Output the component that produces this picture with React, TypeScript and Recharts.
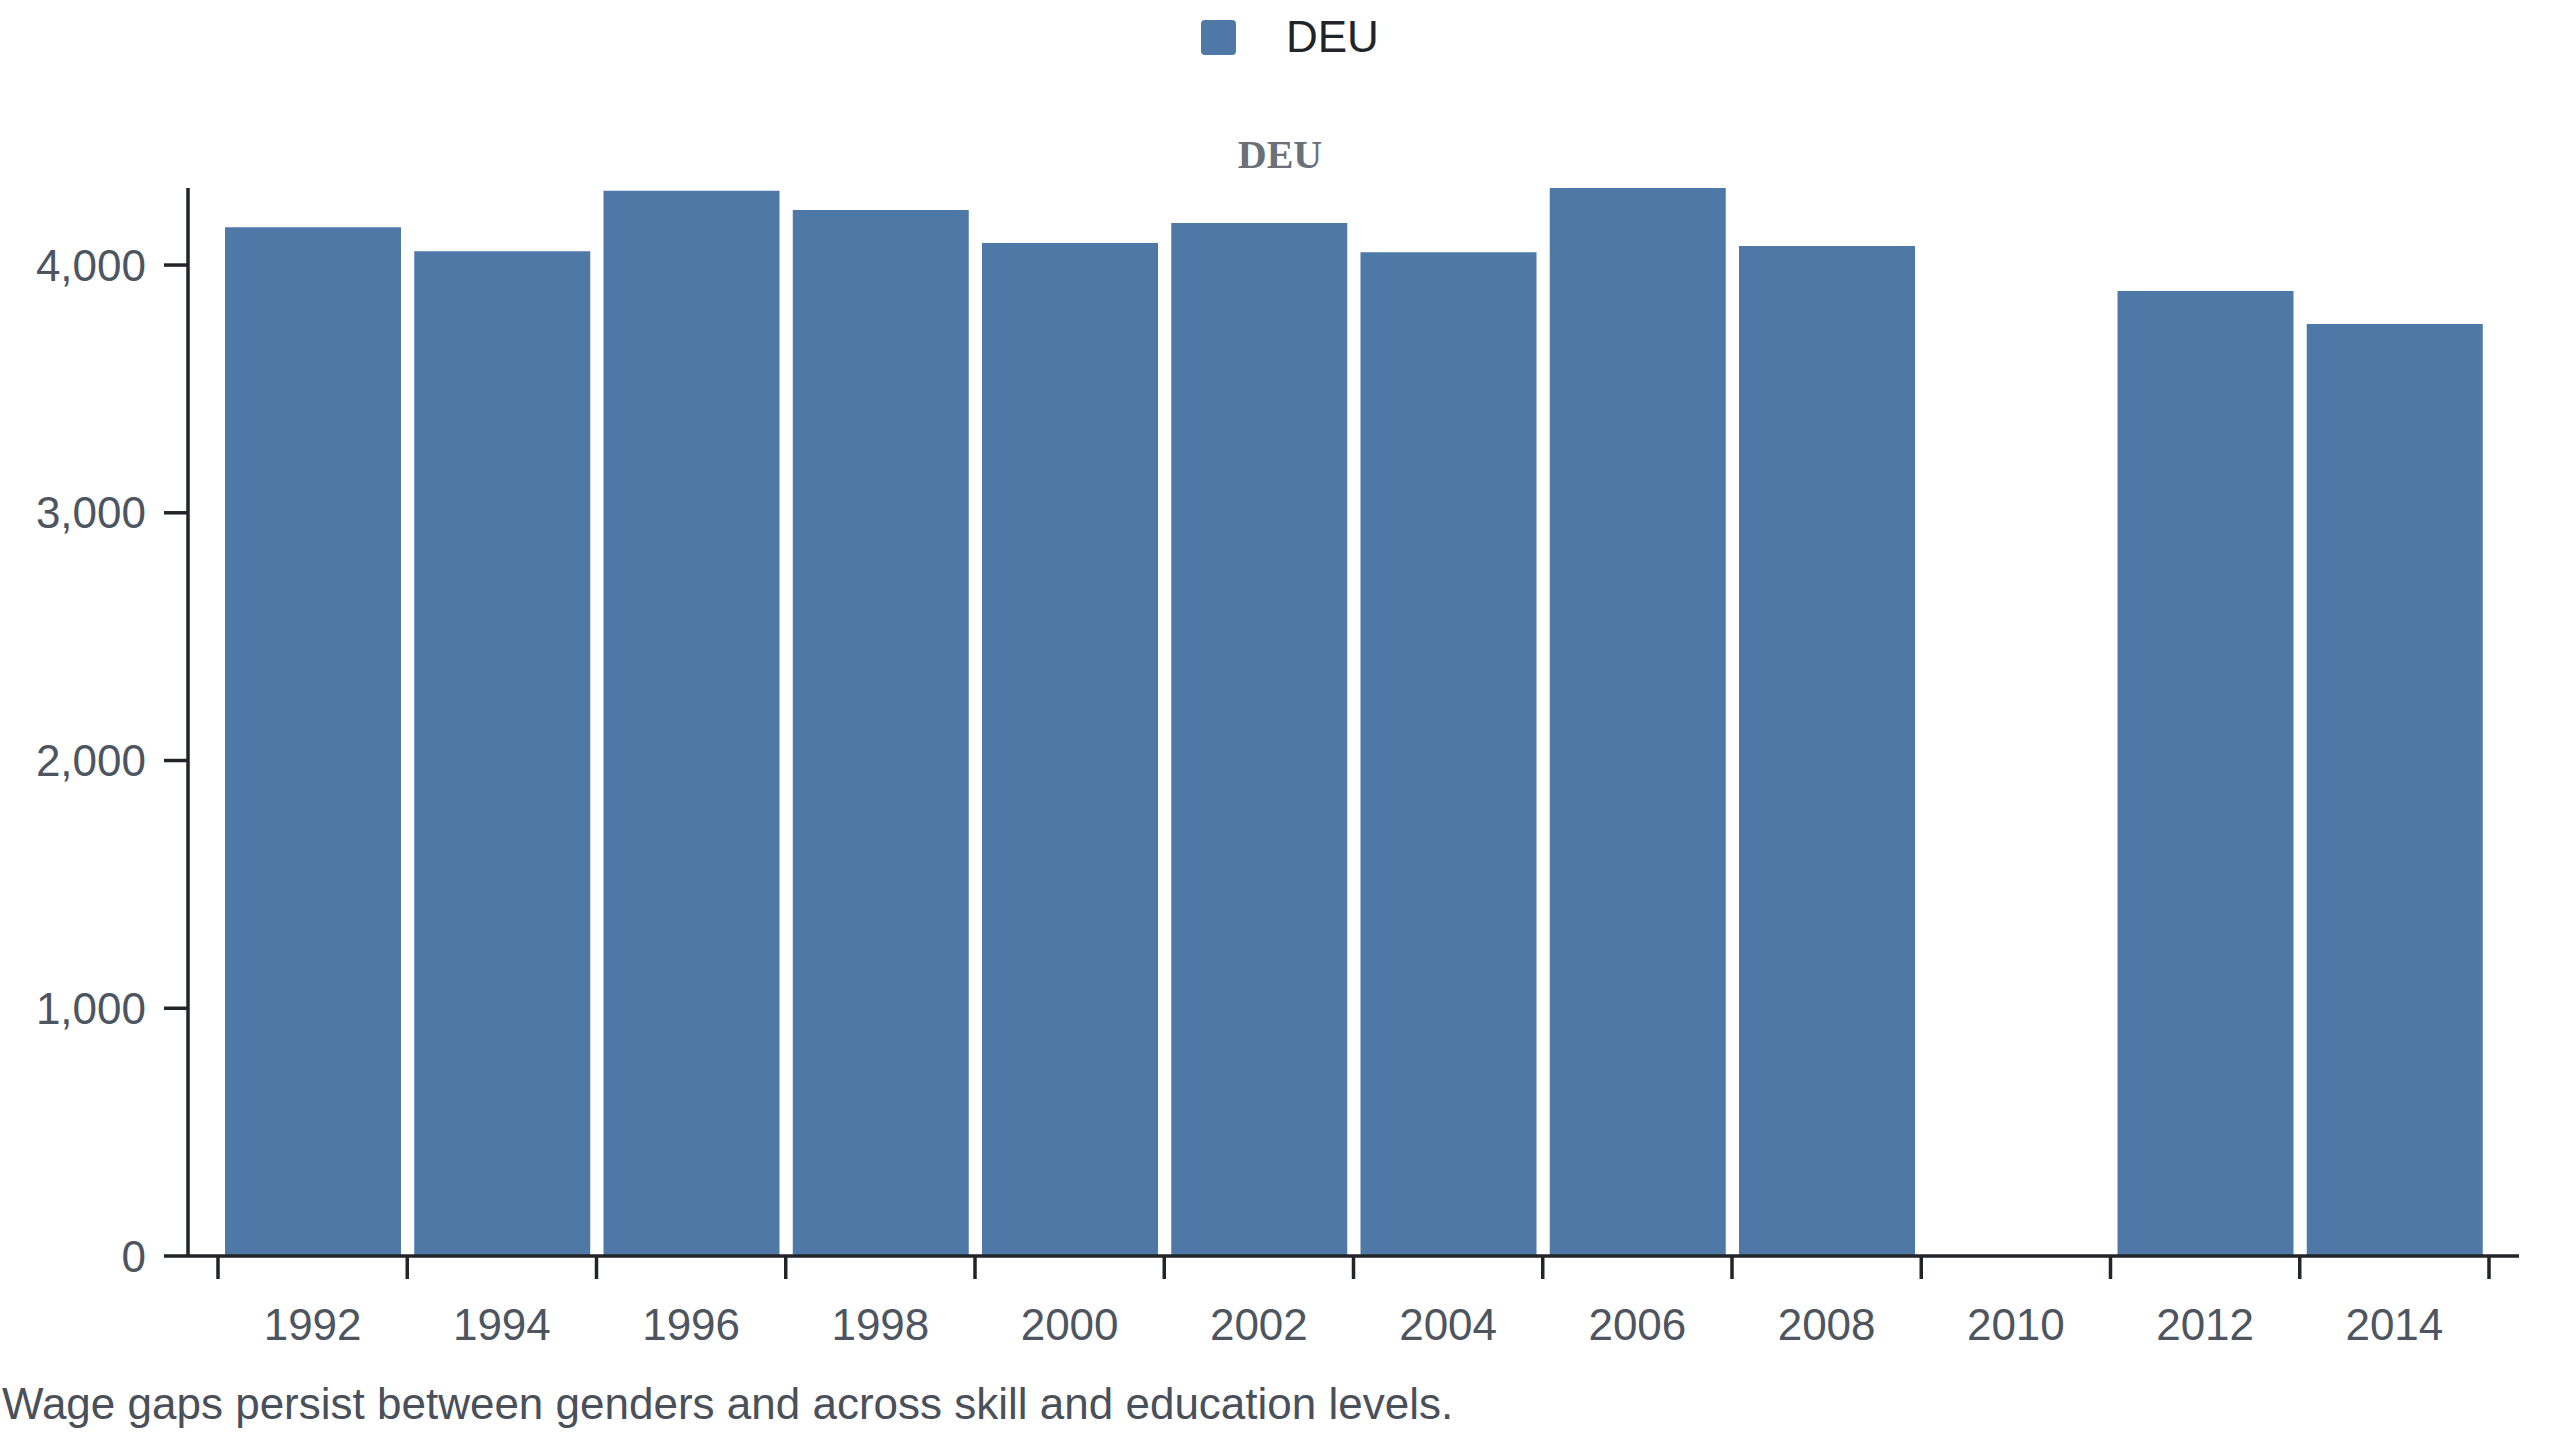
import React from "react";
import { BarChart, Bar, XAxis, YAxis, Legend } from "recharts";

// DEU series, one value per survey year (2010 has no data)
const years = ["1992", "1994", "1996", "1998", "2000", "2002", "2004", "2006", "2008", "2010", "2012", "2014"];
const deuValues: (number | null)[] = [4153, 4056, 4300, 4222, 4089, 4170, 4052, 4311, 4077, null, 3895, 3762];
const yTicks = [0, 1000, 2000, 3000, 4000];

const data = years.map((year, i) => ({ year, DEU: deuValues[i] }));

const BAR_COLOR = "#4e79a7";
const AXIS_COLOR = "#212529";
const TICK_COLOR = "#4d5560";
const SANS = "'Liberation Sans', Arial, sans-serif";

// label in the middle of each band, tick marks on the band edges
function YearTick(props: any) {
  const { x, y, payload, index, visibleTicksCount } = props;
  const half = payload.offset || 0;
  const isLast = index === visibleTicksCount - 1;
  return (
    <g>
      <line x1={x - half} x2={x - half} y1={y} y2={y + 23} stroke={AXIS_COLOR} strokeWidth={3.5} />
      {isLast && <line x1={x + half} x2={x + half} y1={y} y2={y + 23} stroke={AXIS_COLOR} strokeWidth={3.5} />}
      <text x={x} y={y + 84} textAnchor="middle" fill={TICK_COLOR} fontSize={44} fontFamily={SANS}>
        {payload.value}
      </text>
    </g>
  );
}

function LegendContent() {
  return (
    <div style={{ position: "relative", width: 2560, height: 75 }}>
      <div
        style={{
          position: "absolute",
          left: 1201,
          top: 20,
          width: 35,
          height: 35,
          borderRadius: 4,
          background: BAR_COLOR,
        }}
      />
      <div
        style={{
          position: "absolute",
          left: 1286,
          top: 15,
          fontFamily: SANS,
          fontSize: 44,
          lineHeight: "44px",
          color: AXIS_COLOR,
        }}
      >
        DEU
      </div>
    </div>
  );
}

export default function App() {
  return (
    <div style={{ position: "relative", width: 2560, height: 1440, background: "#fff" }}>
      <style>{`body { margin: 0; }`}</style>
      <BarChart
        width={2560}
        height={1356}
        data={data}
        margin={{ top: 113, right: 41, left: 0, bottom: 0 }}
      >
        <Legend
          verticalAlign="top"
          content={<LegendContent />}
          wrapperStyle={{ top: 0, left: 0, width: 2560, height: 75 }}
        />
        <XAxis
          dataKey="year"
          height={100}
          padding={{ left: 30, right: 30 }}
          tickLine={false}
          tickSize={0}
          tickMargin={0}
          interval={0}
          axisLine={{ stroke: AXIS_COLOR, strokeWidth: 3.5 }}
          tick={<YearTick />}
        />
        <YAxis
          width={188}
          domain={[0, "dataMax"]}
          ticks={yTicks}
          tickSize={24}
          tickMargin={18}
          tickFormatter={(v: number) => v.toLocaleString("en-US")}
          axisLine={{ stroke: AXIS_COLOR, strokeWidth: 3.5 }}
          tickLine={{ stroke: AXIS_COLOR, strokeWidth: 3.5 }}
          tick={{ fill: TICK_COLOR, fontSize: 44, fontFamily: SANS }}
        />
        <Bar dataKey="DEU" fill={BAR_COLOR} barSize={176} isAnimationActive={false} />
      </BarChart>
      <svg
        width={2560}
        height={1440}
        style={{ position: "absolute", left: 0, top: 0, pointerEvents: "none" }}
      >
        <text
          x={1280}
          y={168}
          textAnchor="middle"
          fontFamily="'Liberation Serif', 'Times New Roman', serif"
          fontWeight="bold"
          fontSize={40}
          fill="#6b7179"
        >
          DEU
        </text>
        <text x={2} y={1419} fontFamily={SANS} fontSize={44} fill="#4a5059">
          Wage gaps persist between genders and across skill and education levels.
        </text>
      </svg>
    </div>
  );
}
